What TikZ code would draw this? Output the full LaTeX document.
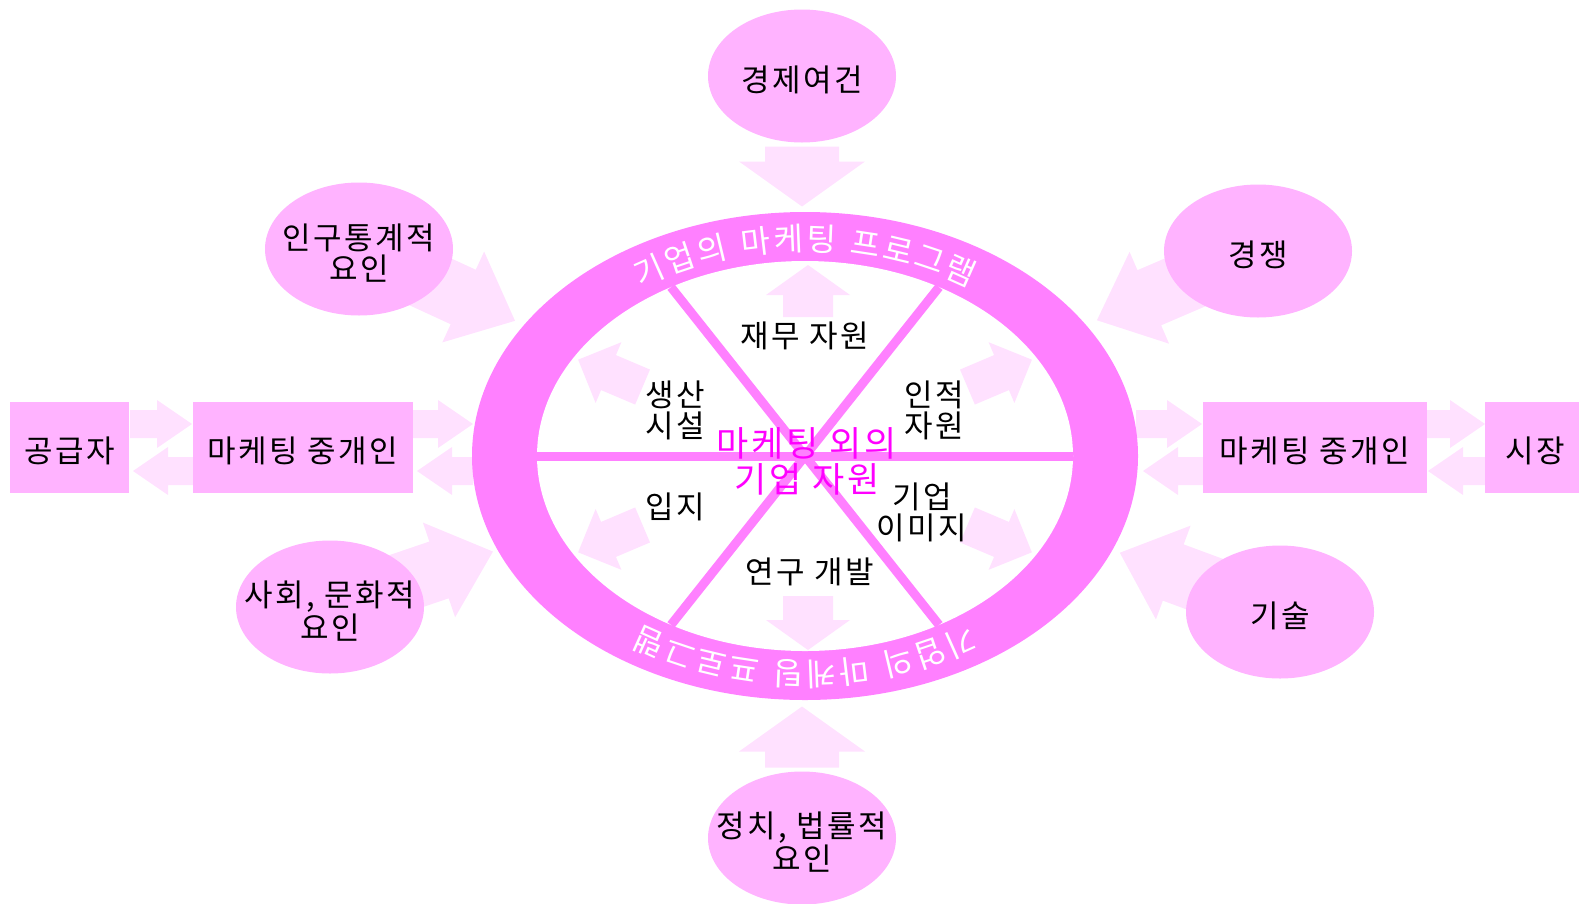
\documentclass[tikz,border=0pt]{standalone}
\usepackage{fontspec}
\setmainfont{Noto Sans CJK KR}[LetterSpace=8]
\usetikzlibrary{shapes.geometric,calc,decorations.text,backgrounds}
\definecolor{ringpink}{HTML}{FF80FF}
\definecolor{bubblepink}{HTML}{FFB3FF}
\definecolor{arrowpink}{HTML}{FFE1FF}
\definecolor{coremagenta}{HTML}{FF00FF}
\newcommand{\lblfont}{\fontsize{31}{31}\selectfont}
\newcommand{\corefont}{\fontsize{35}{36}\selectfont}
\newcommand{\ringfont}{\fontsize{32}{32}\selectfont}
% tail, tip, shaft half width, head half width, head length
\newcommand{\fatarrow}[5]{%
  \path (#1) coordinate (fa-tail) (#2) coordinate (fa-tip);
  \path ($(fa-tip)!#5!(fa-tail)$) coordinate (fa-base);
  \fill[arrowpink] ($(fa-tail)!#3!90:(fa-tip)$) -- ($(fa-base)!#3!90:(fa-tip)$)
    -- ($(fa-base)!#4!90:(fa-tip)$) -- (fa-tip) -- ($(fa-base)!#4!-90:(fa-tip)$)
    -- ($(fa-base)!#3!-90:(fa-tip)$) -- ($(fa-tail)!#3!-90:(fa-tip)$) -- cycle;}
\begin{document}
\begin{tikzpicture}
  [x=1pt, y=1pt,
  lbl/.style={align=center, inner sep=0pt, font=\lblfont, yshift=-4pt},
  bubble/.style={ellipse, fill=bubblepink, minimum width=188pt, minimum height=133pt,
    inner sep=0pt, outer sep=0pt, label={[lbl]center:#1}},
  box/.style={rectangle, fill=bubblepink, minimum height=91pt, inner sep=0pt,
    outer sep=0pt, font=\lblfont, text height=31pt, text depth=2pt},
  res/.style={align=center, inner sep=0pt, font=\lblfont},
  spoke/.style={draw=ringpink, line width=9pt},
  ringtext/.style={decorate, decoration={text along path, text={|\ringfont|#1},
    text align={fit to path}, text color=white}}]
\useasboundingbox (0,0) rectangle (1579,-903);

\node[ellipse, fill=ringpink, minimum width=666pt, minimum height=488pt,
  inner sep=0pt, outer sep=0pt] (ring) at (805,-456) {};
\node[ellipse, fill=white, minimum width=536pt, minimum height=390pt,
  inner sep=0pt, outer sep=0pt] (core) at (ring.center) {};
\foreach \t in {0,60,120}
  \draw[spoke] ($(ring.center)+(\t:268pt and 195pt)$) -- ($(ring.center)+(\t+180:268pt and 195pt)$);

\path[ringtext={기업의 마케팅 프로그램}] ($(ring.center)+(125:286pt and 205pt)$)
  arc[start angle=125, end angle=55, x radius=286pt, y radius=205pt];
\path[ringtext={기업의 마케팅 프로그램}] ($(ring.center)+(-55:286pt and 206pt)$)
  arc[start angle=-55, end angle=-125, x radius=286pt, y radius=206pt];

\fatarrow{$(core.north)+(3,-56)$}{$(core.north)+(3,-4)$}{25pt}{42pt}{30pt}
\fatarrow{$(core.south)+(3,55)$}{$(core.south)+(3,1)$}{25pt}{42pt}{30pt}
\foreach \a in {157,23,203,337}
  {\fatarrow{$(core.\a)!75pt!(core.center)$}{$(core.\a)!5pt!(core.center)$}{19pt}{33pt}{33pt}}

\node[res] (fin) at (805,-336) {재무 자원};
\node[res] (prod) at (675,-410) {생산\\시설};
\node[res] (hum) at (934,-410) {인적\\자원};
\node[res] (loc) at (675,-507) {입지};
\node[res] (img) at (922,-512) {기업\\이미지};
\node[res] (rnd) at (810,-572) {연구 개발};
\node[res, font=\corefont, text=coremagenta] (other) at (807,-461) {마케팅 외의\\기업 자원};

\node[bubble={경제여건}] (eco) at (802,-76) {};
\node[bubble={인구통계적\\요인}] (demo) at (359,-249) {};
\node[bubble={사회, 문화적\\요인}] (social) at (330,-607) {};
\node[bubble={경쟁}] (comp) at (1258,-251) {};
\node[bubble={기술}] (tech) at (1280,-612) {};
\node[bubble={정치, 법률적\\요인}] (pol) at (802,-838) {};

\node[box, minimum width=119pt] (sup) at (69.5,-447.5) {공급자};
\node[box, minimum width=220pt] (lint) at (303,-447.5) {마케팅 중개인};
\node[box, minimum width=224pt] (rint) at (1315,-447.5) {마케팅 중개인};
\node[box, minimum width=100pt] (mkt) at (1535,-447.5) {시장};

\begin{scope}[on background layer]
  \fatarrow{$(sup.east)+(1,23.5)$}{$(lint.west)+(-1,23.5)$}{14pt}{24pt}{35pt}
  \fatarrow{$(lint.west)+(0,-23.5)$}{$(sup.east)+(4,-23.5)$}{14pt}{24pt}{35pt}
  \fatarrow{$(lint.east)+(0,23.5)$}{$(ring.west |- lint.east)+(1,23.5)$}{14pt}{24pt}{35pt}
  \fatarrow{$(ring.west |- lint.east)+(1,-23.5)$}{$(lint.east)+(4,-23.5)$}{14pt}{24pt}{35pt}
  \fatarrow{$(ring.east |- rint.west)+(-2,23.5)$}{$(rint.west)+(-1,23.5)$}{14pt}{24pt}{35pt}
  \fatarrow{$(rint.west)+(0,-23.5)$}{$(ring.east |- rint.west)+(5,-23.5)$}{14pt}{24pt}{35pt}
  \fatarrow{$(rint.east)+(0,23.5)$}{$(mkt.west)+(0,23.5)$}{14pt}{24pt}{35pt}
  \fatarrow{$(mkt.west)+(0,-23.5)$}{$(rint.east)+(1,-23.5)$}{14pt}{24pt}{35pt}
  \fatarrow{$(eco.south)+(0,-4)$}{$(eco.south)+(0,-64)$}{37pt}{63pt}{45pt}
  \fatarrow{$(pol.north)+(0,4)$}{$(pol.north)+(0,65)$}{37pt}{63pt}{45pt}
  \fatarrow{demo}{$(ring.155)!10pt!(demo)$}{30pt}{50pt}{57pt}
  \fatarrow{social}{$(ring.197)!5pt!(social)$}{30pt}{50pt}{57pt}
  \fatarrow{comp}{$(ring.25)!12pt!(comp)$}{30pt}{50pt}{57pt}
  \fatarrow{tech}{$(ring.-17)!8pt!(tech)$}{30pt}{50pt}{57pt}
\end{scope}
\end{tikzpicture}
\end{document}
